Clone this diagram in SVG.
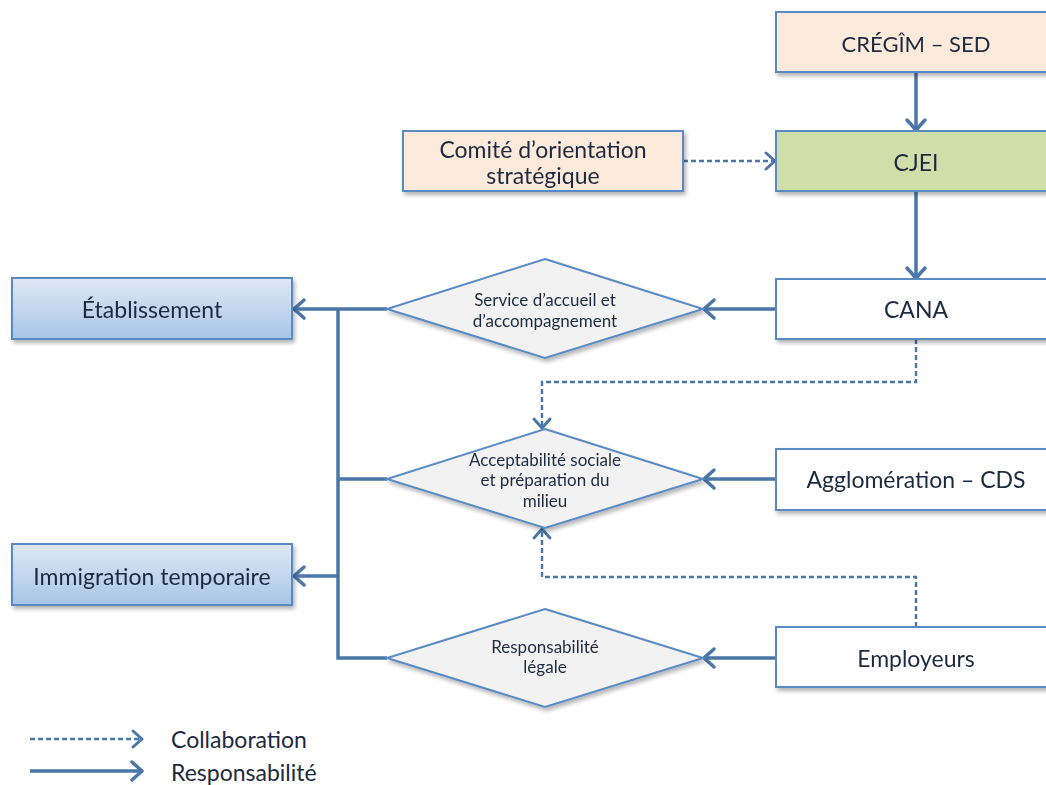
<svg xmlns="http://www.w3.org/2000/svg" width="1046" height="785" viewBox="0 0 1046 785">
<style>
.box{stroke:#5a8ac6;stroke-width:2}
.peach{fill:#fdeadb}
.green{fill:#d0deaa}
.white{fill:#ffffff}
.blue{fill:url(#bg)}
.dia{fill:#f2f2f2;stroke:#5a8ac6;stroke-width:2}
.t{font-family:Lato,"Liberation Sans",sans-serif;fill:#1d2a40;text-anchor:middle}
.big{font-size:23px}
.small{font-size:17px}
.solid{fill:none;stroke:#4a76a8;stroke-width:3.5}
.dash{fill:none;stroke:#4a76a8;stroke-width:2.4;stroke-dasharray:5,3}
</style>
<defs>
<linearGradient id="bg" x1="0" y1="0" x2="0" y2="1">
<stop offset="0" stop-color="#dfe8f4"/>
<stop offset="1" stop-color="#a8c5e8"/>
</linearGradient>
<filter id="sh" x="-10%" y="-20%" width="125%" height="150%">
<feGaussianBlur in="SourceAlpha" stdDeviation="2"/>
<feOffset dx="2" dy="3"/>
<feComponentTransfer><feFuncA type="linear" slope="0.3"/></feComponentTransfer>
<feMerge><feMergeNode/><feMergeNode in="SourceGraphic"/></feMerge>
</filter>
<marker id="as" markerUnits="userSpaceOnUse" markerWidth="16" markerHeight="24" refX="13" refY="12" orient="auto">
<path d="M3,3 L13,12 L3,21" fill="none" stroke="#4a76a8" stroke-width="3.5" stroke-linecap="round" stroke-linejoin="round"/>
</marker>
<marker id="ad" markerUnits="userSpaceOnUse" markerWidth="16" markerHeight="24" refX="13" refY="12" orient="auto">
<path d="M4,4 L13,12 L4,20" fill="none" stroke="#4a76a8" stroke-width="3" stroke-linecap="round" stroke-linejoin="round"/>
</marker>
</defs>

<g id="connectors">
<line class="solid" x1="916" y1="72" x2="916" y2="130" marker-end="url(#as)"/>
<line class="solid" x1="916" y1="191" x2="916" y2="278" marker-end="url(#as)"/>
<line class="dash" x1="683" y1="161" x2="775" y2="161" marker-end="url(#ad)"/>
<line class="solid" x1="776" y1="309" x2="704" y2="309" marker-end="url(#as)"/>
<line class="solid" x1="776" y1="479" x2="704" y2="479" marker-end="url(#as)"/>
<line class="solid" x1="776" y1="658" x2="704" y2="658" marker-end="url(#as)"/>
<polyline class="dash" points="916,339 916,382 542,382 542,428" marker-end="url(#ad)"/>
<polyline class="dash" points="916,627 916,577 542,577 542,529" marker-end="url(#ad)"/>
<polyline class="solid" points="387,309 338,309"/>
<polyline class="solid" points="387,479 338,479"/>
<polyline class="solid" points="387,658 338,658 338,309"/>
<line class="solid" x1="338" y1="309" x2="294" y2="309" marker-end="url(#as)"/>
<line class="solid" x1="338" y1="576" x2="294" y2="576" marker-end="url(#as)"/>
</g>

<g id="cregim" filter="url(#sh)"><rect class="box peach" x="776" y="12" width="280" height="60"/><text class="t big" x="916" y="52" style="font-size:22px">CRÉGÎM – SED</text></g>
<g id="cjei" filter="url(#sh)"><rect class="box green" x="776" y="131" width="280" height="60"/><text class="t big" x="916" y="171">CJEI</text></g>
<g id="comite" filter="url(#sh)"><rect class="box peach" x="403" y="131" width="280" height="60"/><text class="t big" x="543" y="158">Comité d’orientation</text><text class="t big" x="543" y="184">stratégique</text></g>
<g id="cana" filter="url(#sh)"><rect class="box white" x="776" y="279" width="280" height="60"/><text class="t big" x="916" y="318">CANA</text></g>
<g id="agglo" filter="url(#sh)"><rect class="box white" x="776" y="449" width="280" height="61"/><text class="t big" x="916" y="488">Agglomération – CDS</text></g>
<g id="employeurs" filter="url(#sh)"><rect class="box white" x="776" y="627" width="280" height="60"/><text class="t big" x="916" y="667">Employeurs</text></g>
<g id="etablissement" filter="url(#sh)"><rect class="box blue" x="12" y="278" width="280" height="61"/><text class="t big" x="152" y="318">Établissement</text></g>
<g id="immigration" filter="url(#sh)"><rect class="box blue" x="12" y="544" width="280" height="61"/><text class="t big" x="152" y="585">Immigration temporaire</text></g>

<g id="service" filter="url(#sh)"><polygon class="dia" points="545,259 703,309 545,358 387,309"/><text class="t small" x="545" y="306">Service d’accueil et</text><text class="t small" x="545" y="327">d’accompagnement</text></g>
<g id="acceptabilite" filter="url(#sh)"><polygon class="dia" points="545,429 703,479 545,528 387,479"/><text class="t small" x="545" y="466">Acceptabilité sociale</text><text class="t small" x="545" y="486">et préparation du</text><text class="t small" x="545" y="507">milieu</text></g>
<g id="responsabilite" filter="url(#sh)"><polygon class="dia" points="545,609 703,658 545,707 387,658"/><text class="t small" x="545" y="653">Responsabilité</text><text class="t small" x="545" y="673">légale</text></g>

<g id="legend">
<line class="dash" x1="30" y1="739" x2="142" y2="739" marker-end="url(#ad)"/>
<line class="solid" x1="30" y1="771" x2="142" y2="771" marker-end="url(#as)"/>
<text class="t big" x="171" y="748" style="text-anchor:start">Collaboration</text>
<text class="t big" x="171" y="781" style="text-anchor:start">Responsabilité</text>
</g>
</svg>
